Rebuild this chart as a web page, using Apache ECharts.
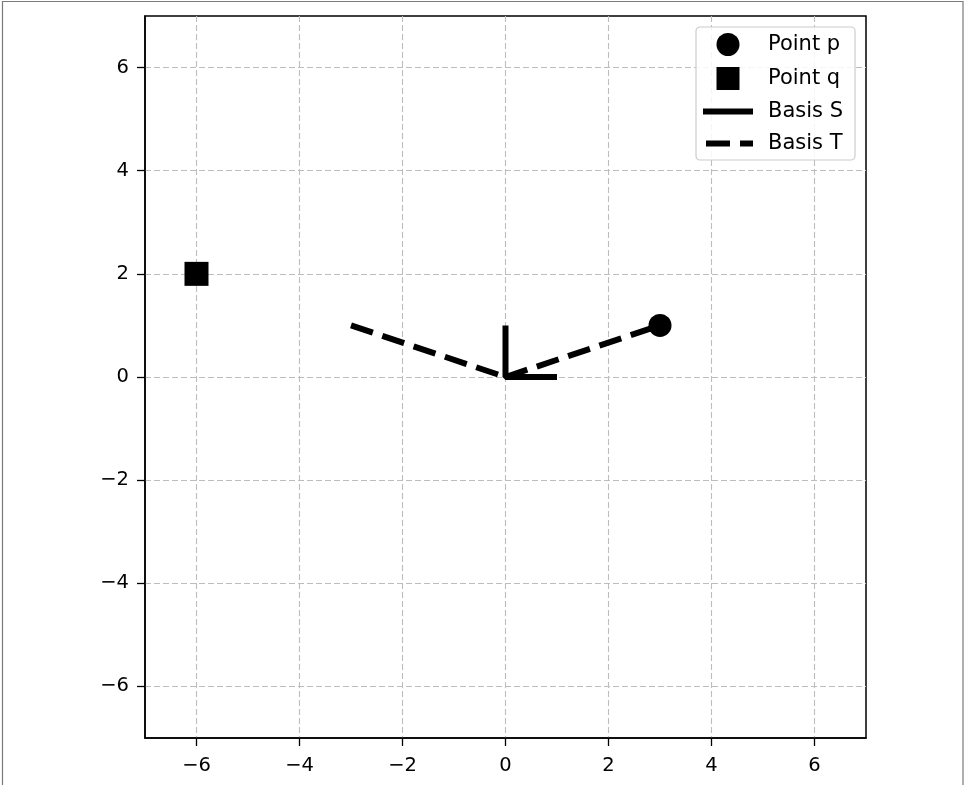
<!DOCTYPE html>
<html>
<head>
<meta charset="utf-8">
<script src="https://cdn.jsdelivr.net/npm/echarts@6/dist/echarts.min.js"></script>
<style>
html,body{margin:0;padding:0;background:#fff;}
#chart{width:964px;height:785px;}
</style>
</head>
<body>
<div id="chart"></div>
<script>
// Data
const pointP = [[3, 1]];
const pointQ = [[-6, 2]];
const basisS = [[1, 0], [0, 0], [0, 1]];
const basisT1 = [[0, 0], [3, 1]];
const basisT2 = [[-3, 1], [0, 0]];
const tickValues = [-6, -4, -2, 0, 2, 4, 6];
const axisMin = -7, axisMax = 7;
const legendNames = ['Point p', 'Point q', 'Basis S', 'Basis T'];

const fmt = v => String(v).replace('-', '\u2212');
const font = '"DejaVu Sans", sans-serif';

function makeAxis(isX) {
  return {
    type: 'value', min: axisMin, max: axisMax,
    axisLine: { show: true, onZero: false, lineStyle: { color: '#000', width: 1.5 } },
    axisTick: { show: true, customValues: tickValues, length: 8, lineStyle: { color: '#000', width: 1.3 } },
    axisLabel: { customValues: tickValues, formatter: fmt, color: '#000', fontSize: 19.5, fontFamily: font, margin: isX ? 18 : 16 },
    splitLine: { show: true, lineStyle: { color: '#bdbdbd', width: 1.1, type: [6, 3] } }
  };
}

const chart = echarts.init(document.getElementById('chart'), null, { renderer: 'canvas' });
chart.setOption({
  backgroundColor: '#fff',
  animation: false,
  grid: { left: 145, top: 16, width: 721, height: 722, show: true, borderColor: '#000', borderWidth: 1.5, backgroundColor: 'transparent' },
  xAxis: makeAxis(true),
  yAxis: makeAxis(false),
  graphic: [{ type: 'rect', shape: { x: 2.5, y: 1.5, width: 960.5, height: 900 }, style: { fill: 'none', stroke: '#7a7a7a', lineWidth: 1.2 }, silent: true }],
  legend: {
    right: 109, top: 27,
    orient: 'vertical',
    data: [
      { name: legendNames[0], icon: 'circle' },
      { name: legendNames[1], icon: 'path://M0,0L10,0L10,10L0,10Z' },
      { name: legendNames[2], itemStyle: { opacity: 0 }, lineStyle: { width: 6, color: '#000', type: 'solid', cap: 'butt' } },
      { name: legendNames[3], itemStyle: { opacity: 0 }, lineStyle: { width: 6, color: '#000', type: [24, 10], dashOffset: -3, cap: 'butt' } }
    ],
    symbolKeepAspect: true,
    itemWidth: 50, itemHeight: 23, itemGap: 11,
    padding: [6, 12, 6, 4],
    backgroundColor: 'rgba(255,255,255,0.85)',
    borderColor: '#cccccc', borderWidth: 1.2, borderRadius: 4,
    textStyle: { color: '#000', fontSize: 21, fontFamily: font, padding: [0, 0, 0, 10] }
  },
  series: [
    { name: legendNames[2], type: 'line', data: basisS, symbol: 'none', itemStyle: { color: '#000' }, lineStyle: { color: '#000', width: 6, cap: 'butt' }, z: 3 },
    { name: legendNames[3], type: 'line', data: basisT1, symbol: 'none', itemStyle: { color: '#000' }, lineStyle: { color: '#000', width: 6, type: [23, 10], cap: 'butt' }, z: 3 },
    { name: legendNames[3], type: 'line', data: basisT2, symbol: 'none', itemStyle: { color: '#000' }, lineStyle: { color: '#000', width: 6, type: [23, 10], cap: 'butt' }, z: 3 },
    { name: legendNames[0], type: 'scatter', data: pointP, symbol: 'circle', symbolSize: 23, itemStyle: { color: '#000', opacity: 1 }, z: 5 },
    { name: legendNames[1], type: 'scatter', data: pointQ, symbol: 'rect', symbolSize: 24, itemStyle: { color: '#000', opacity: 1 }, z: 5 }
  ]
});
</script>
</body>
</html>
